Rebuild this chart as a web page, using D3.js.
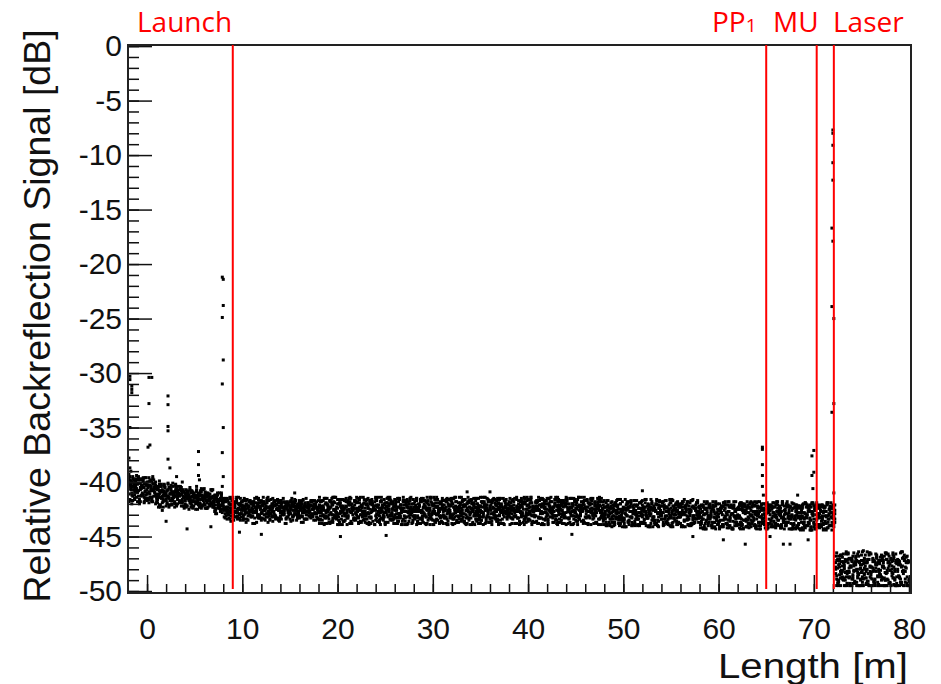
<!DOCTYPE html>
<html>
<head>
<meta charset="utf-8">
<script src="https://cdn.jsdelivr.net/npm/d3@7"></script>
<style>
  body { margin: 0; background: #fff; }
</style>
</head>
<body>
<script>
// OTDR trace, one code character per sample, each character is a 0.1 dB step
// above the floor of its chunk
const levelCodes = "0123456789ABCDEFGHIJKLMNOPQRSTUVWXYZabcdefghijklmnopqrstuvwxyz";
const levelStep = 0.1;
const sampleStep = 0.1;                       // metres between samples
const chunkStarts = [-2, 8, 18, 28, 38, 48, 58, 68, 72.3];
const chunkFloors = [-45, -46, -46, -46, -46, -46, -46, -46, -51];

const sweepA = [
  "pWtkcrhYmi fnVqbjsagl XoedkZrhmU cjRpaghXlb eVnZdiTkfW mbYhcjSofa UhZcPjXbfS aWkVdRgYcT iZbQeUXhaW STbLeVRZdP",
  "ZhVgQbXjTd kPaWfSeUcY gRZiNdbVhT XcgMaWjRfZ PdkUYbhSXa VeOgcTZiRb hQXaWfMdYU bZjSgVcPeX dTahNZYbQf cXRgUedPVa",
  "QdXgMaTjRY bNhVfPZkSW UeLcXiOaTg YRjMdWbQhV fSZNkUcPXa TiWMeRgYbL jVOdaQhXSe NcUkZTfWPb iRYMgVdLaQ XheSbOjUZT",
  "eTZhNbXQjR WcMgYaUkSf LdVibPXTeO hZRaMjWcYU gQbSkNXfTd OYiVcLaRhW ZfMjUbQeXS kPgTdYNaVh cRLiWfZOjb UXeMaSgdQY",
  "TjYcQgMXaR hbWUeNkSZd ViPfLaXTcO gRYjbMdWQh ZUeSkaNXfT cLiVgPYbRd WhMZjTaeQX SfOkcUbYgN aRiLXdWhTV eZMbjQcSYg",
  "SVfLbTQaJX cNWhRZKeUP YMidTbOXgS LaVQcKWfNZ hUPbXRJdTM eYSaLiWOcV QgKZbNTXRf aMhUPdLYSb WJeVOcZgQK TXbiMRaUfN",
  "RZMcHUaPXK dQVIbSNfTL YOaWJcRgMU PXKbVHdSZN aTLfQYIcWO gMRUJbXPdK VaNSHeQZLT cWIYMbRfOU KXdPaVJgSN ZLbTQcHUeM",
  "SHaTMcQXIe NVbRKZdPGW cLUfSJaYOT MbHXdQVKfR aTN",
  "aOdKWhQLbU FiSNeHXcPZ JgTMbFYRkL VdHaQjNWFS cKZfIUbPgM XFRiLaHTdO jWKFbScNYG eQhIVFaL"
];
const sweepB = [
  "ksYhoXqfju mbrWiepVnc hZslaXgqeo WhcmTfaYkd SgbjXeUnaR fiZcVkdWhQ dTbfXhRaWe ZcgPYbUiSa VfQXdbTZhR YNcaQWeTSX",
  "jaRhbYUkOe XfcSiWZdPg bTjVeQaYhS fMdXbkUcRZ gWeQaSjNbV iYcThRdZfO aXUbgMeSWd QhcYTfZaRV gbNeXcQjUa WTdZhPcbSY",
  "hPaWcUjMXe SZgNdRkTYb LiVfQaXOhc WTeMjZbRgP aYNiUdSkVX eQcLhWfOaZ TjbXNgRdUi MYfSckPVeQ bhZOjTaWLg dRXiMeUbYN",
  "SgbLXeRiYP jTcZMhVaQd WkOfUbYNgS dXaRiLeZTc MjVYgPbSkW aQhNdUfXRL ieZcTjOWMb YgSVkaPdXh QNfbUiRTeL ZcWMjhXaYV",
  "dWaRhTXMkb YOgcVeLjSZ iQbUfXNaTh MkYdRWcgPe VLjaZSbXiQ TgNdYhUfMc kbXRaVeLjW PZicQTgYOd hMSbXfjaUR cYWeLkgTVa",
  "bQKYhNVcSa TLfWdPiMXR ZJaUgObSeK VhMYcQTLaW dNXfKRZbUi PSaLeMVJhY cWgQTbOXdK RiNZaUfLVS MeYbPJcTgW XKhRaNdQVb",
  "aLSXdIVOgQ TcKZNbRHWe MYPaUJfSdL XgQbIVcNTK RZeHMaWPdY JSbLgUOcXI fTNaKYQeVR HdMWcPZbJS UgLXaIRfNc QKVdTbMYHe",
  "bPYJcSGWdN ReKUaMXIfT QZHcVLbSJd WaOMeTKYbG UcQ",
  "QjHYcMTfKW bNFiRXdLgS HaUOkFVcIZ eMSbJhWPFd TLiYaGQfNX cFKjRVbHeU MgSFZdOaIW kTcLfNFb"
];
const sweepC = [
  "rdlmUthpka qgXnjrcmYs ejVpiotbfl ZdkgRmbWej cUhaTlfYdb kSgeXcjVaf XeSdaYUgQc WbhZTdRfaX bQeVcYSaUh RZLYcTXNaV",
  "cYhTaWfQdX iUbSgZeRjV aPcXhdTbYf SZgWbNdiUa hRcYeVfkTQ bXaSgdZhPc WeUjYaRbfX gOcTdVhZSa eYbWiQcUXd aSgcTZhdVb",
  "XkTbPhYRfM dUaWjNgSZQ iLeXcTOhVb RfZkMaYPdW UgSjbNXeQT hMaVfRiZcL YdOkTWgbPS aXjNeUhQZc MfVRbiTYOk gSdLaXhWeP",
  "YQiaTMdgWX NhbSfZRLjU ceXPkVaMeT bUhYgQOiWd RLjZcTXNaf kVSdMYegPb WiNTahUZcQ MXfLbkRjYS gdOVaTQhZe jPcXMWbiSU",
  "gLbVYdSTiX RaMheZjQWc OXfkTbUNgY aSdiLVQeZh jMcXWgRbTP YkUaNfdhVS LeZQbjXcMi WgTRYaOdfk bVhMSeiXQZ UcNjaYgLTd",
  "hXNcUaLfWQ KdSYbiMRTg OaVJeZPcXN bLhWSdQKfU YaMiTRcVJb gPZNXeKSaW UfLdQhbMYT JXcRVaOgNe SbKWiUdPLZ fYMcTQaXhR",
  "cWOIUgMZaR NeSKbXJdPT VHYcLfQaWM dIRUbOgKXS LaTNZcHeYQ bJWfPMdRVI XcKgSaUNeO ZHbQYdLTfJ MRaVcIXgPU KedNWbSHaL",
  "IXdRLaTNcG WfSKbYPJeU MHdQaVIcXR LbTGfNZaSK dMV",
  "gLVFdShNaY KcQjMFWbHT ZeIRgUFcNl PXaJdFSiLV bHYfOFcTKe WMjQFaXIdR hGUcNFZbLk SfFWaHcJ"
];
const sweepD = [
  "ivnpXkmcrg WtYhlqdjsZ olfaqWmhjc iYaTfkVcgd XbmRdhZeaU lTfcWidYbS aRfZcVgTXd bPaWeUcSYh ZTcQbXdVaS WcOaTYQXeM",
  "fZjbWhRdYa TgcXkQaVeS dhUbZiPcXg aWeRfYbjTc VdgZaShXbP cTjWdQeaYg RhbXUcfZSd aVgPbiYcWT hZdSaXfQcb TdhVZaWcgR",
  "aMgYTcLjWd ZQhbOkUfXR eSNiaYcVPj LTdgWMbZhQ kXRfOcaTiN VejSZMdYbg PhUXaLkcRW fNbZiQeTgM YcSjOVdaXh TLgbWeRkMZ",
  "XRdjOYcMgT bVhLaeWSkQ PZiNUcfXRa jMTYbgLdVh SeQkWaNZcX TgbOiRMYfU hLXdVQjaZP cWkSeMbTgN aYRhjUdXOf iMbQZLcVWe",
  "ZSfMiaWYcR eLXjbTQgNh UdVkYOaSfZ cMhRXeiLbW TQjgaVYNdk PbXZcSMhUf iRaeWLjTYg dObkQVcXMa hYSfTZLejU WNcgbiRXVQ",
  "LUbhSXKaNd ZfQVcMTiPW aRJYeNgbSK XdOUhLaWfT MbQiVcRKYZ eJSNXdPagU TcWLhbMQVi fKYRaOXdNS bUgJWcZeLQ VMhPTaYfSX",
  "UMdQbKZHfT SaXNgIVcRL OeJWbPYdMU gKScHaTXQN ZbIRfLWdVJ aPMeYcSKgU HTbXNdQaRI VfLZcOJbWM dSgKUaIePY XNcRHbTfLQ",
  "TdKWbHSZaM QIeUNcRGXf JYaPLdVKbS HcMTfIQaWN bRY",
  "WFcIZgMSaF RkHdVNeFLX bTFiPaKYFc QhGUdFjMWb IFSeNcZFhL aVRFdKgTFX cMFiHbYF"
];
const sweepE = [
  "mXqiebkZoh gsUjclrWfn dkYpgaWjni bVhdkZfRmc YgaTjeXcfV hdUkbWgeSa XcSgYaeWRd aUfZbVcQhY TdXaRcZUgb VQaWdSYPcU",
  "cSgYjUeaWh RbdXfTkZcV aYhQdWbgUe ZTcjXaSfbR WdYgPcaVhZ bSeXUdRiaY TcfWZbQgdV XaeSdYhUcb RZgTaWdXbf YcUhSbVeaZ",
  "WcQhZaSeTj XbMgUdYRkV aPfcWLiZTb ShdXOeUaRg ZjMbYcTWfQ dVaNhSXeZc kRbUPgYaTd LWfcXiQZaS UeMbVjRdYh aOXcgTZbWi",
  "bTXjRZcMhW aeUSkPdYgV XLcbQiWTZf NadhSVYcRj eUbMXgZaQT WhdOcYSkbV RaZfLXeTjU cPbWgYdSiN ZVhaRXecQM TjYbUWfdSa",
  "VcRhaYjTMX ZbdSWgPeUk QaXiNcTbYf hZRVdjLaWS eOYcgXUbTi MdaQZhVWSc fjYRNbXeTg aULcdWkZPh SYbXeRiaVM gTcZQdWjaO",
  "URbKdXaQgT NYcSiWMeZJ bPVaTfLXhR cYKdUQaWNg SbZMiTeXJV aRcPYhKdWU QfNbSXaLZi TVJcYeRMbW dKUgPaXQSc ZhLTbNYfVR",
  "TIcXQaHeVM bRUKdYNgPZ SJaWcLfTQI XbOdVHaSgM URcZKePYbJ WdIaTNfXLc QgVHbSMaYR eKZdUJcWOb IfPXaTLdRH VcgNYbQSJa",
  "QbUIcWHaTR KfSdXMGbVe NaYJcTRLdP GXbSIfUcKa WQd",
  "UcKgPFbXiM dRHaSFWeNj IYcFQbLhTF aUMkGdXRFe JbVhFSaNcW FgKdTiHZFb QeLaFUcMjI XFdSbgFK"
];

// isolated reflections and outliers [length m, dB]
const spikePoints = [
  [-1.8, -30.3], [-1.8, -30.6], [-1.6, -31.2], [-1.6, -31.5], [-1.6, -31.8], [-1.8, -35.0],
  [-1.9, -37.8], [-1.8, -38.7], [-1.7, -39.0],
  [0.2, -30.4], [0.5, -30.4], [0.2, -32.8], [0.1, -36.8], [0.3, -36.6],
  [2.2, -32.1], [2.2, -32.9], [2.2, -34.9], [2.2, -35.3], [2.2, -37.9], [2.4, -38.7],
  [3.1, -39.5], [5.4, -37.2], [5.4, -38.4], [5.4, -39.4], [5.5, -39.8],
  [7.9, -21.2], [8.0, -21.4], [8.0, -23.8], [7.9, -24.9], [8.0, -28.8], [7.9, -31.0],
  [8.0, -35.0], [7.9, -37.3], [8.0, -39.5], [7.9, -40.4],
  [64.6, -36.8], [64.6, -37.0], [64.6, -38.4], [64.6, -39.4], [64.6, -40.4], [64.7, -41.2],
  [70.0, -37.1], [69.8, -37.6], [70.0, -39.1], [69.8, -39.4], [69.9, -40.6],
  [72.0, -7.7], [72.0, -8.0], [72.0, -9.1], [72.0, -10.7], [72.0, -12.3], [71.9, -16.7],
  [72.0, -17.9], [71.9, -23.9], [72.1, -25.0], [72.1, -32.8], [71.9, -33.6], [72.1, -41.0],
  [72.1, -42.5], [72.1, -44.1],
  [1.6, -42.6], [2.0, -43.6], [4.2, -44.3], [6.7, -44.1], [9.7, -44.6], [12.0, -44.8],
  [15.5, -41.0], [20.3, -45.0], [25.1, -44.9], [33.6, -40.9], [36.0, -40.9], [41.3, -45.2],
  [44.6, -44.8], [52.0, -40.8], [57.3, -45.0], [60.5, -45.3], [62.8, -45.7], [65.4, -45.0],
  [66.8, -45.7], [67.5, -45.7], [69.4, -45.3], [68.3, -41.2]
];

const markerNames = ["Launch", "PP1", "MU", "Laser"];
const markerAt = [9.0, 65.0, 70.3, 72.1];

const xTicks = [0, 10, 20, 30, 40, 50, 60, 70, 80];
const yTicks = [-50, -45, -40, -35, -30, -25, -20, -15, -10, -5, 0];

// ---- layout
const W = 941, H = 684;
const plot = { left: 128, right: 911, top: 45, bottom: 593 };
const labelLeft = [137, 712, 773, 833];
const axisFont = "'Liberation Sans', Arial, sans-serif";

const x = d3.scaleLinear().domain([-2, 80.2]).range([plot.left, plot.right]);
const y = d3.scaleLinear().domain([-50.18, 0.1]).range([plot.bottom, plot.top]);

const svg = d3.select("body").append("svg")
  .attr("width", W).attr("height", H)
  .style("display", "block");

// decode the sweeps into [m, dB] points
const points = [];
[sweepA, sweepB, sweepC, sweepD, sweepE].forEach(sweep => {
  sweep.forEach((code, i) => {
    code.replace(/ /g, "").split("").forEach((c, j) => {
      const k = levelCodes.indexOf(c);
      if (k >= 0) points.push([chunkStarts[i] + j * sampleStep, chunkFloors[i] + k * levelStep]);
    });
  });
});
spikePoints.forEach(p => points.push(p));

svg.append("clipPath").attr("id", "plotClip")
  .append("rect")
  .attr("x", plot.left).attr("y", plot.top)
  .attr("width", plot.right - plot.left).attr("height", plot.bottom - plot.top);

svg.append("g")
  .attr("clip-path", "url(#plotClip)")
  .selectAll("rect")
  .data(points.filter(p => p[0] <= 80.05))
  .join("rect")
  .attr("x", d => x(d[0]) - 1.5)
  .attr("y", d => y(d[1]) - 1.5)
  .attr("width", 3)
  .attr("height", 3)
  .attr("fill", "#000");

// ---- axes, ticks pointing inwards
const styleAxis = g => {
  g.select(".domain").remove();
  g.attr("font-family", axisFont)
    .attr("font-size", 30)
    .attr("fill", "#111");
  g.selectAll("line").attr("stroke", "#111").attr("stroke-width", 1.5);
  g.selectAll("text").attr("fill", "#111");
};

svg.append("g")
  .attr("transform", `translate(${plot.left},0)`)
  .call(d3.axisLeft(y).tickValues(d3.range(-50, 1, 1)).tickSize(-11).tickFormat(""))
  .call(styleAxis);
svg.append("g")
  .attr("transform", `translate(${plot.left},0)`)
  .call(d3.axisLeft(y).tickValues(yTicks).tickSize(-24).tickPadding(6).tickFormat(d => String(d)))
  .call(styleAxis);

svg.append("g")
  .attr("transform", `translate(0,${plot.bottom})`)
  .call(d3.axisBottom(x).tickValues(d3.range(0, 81, 2)).tickSize(-9).tickFormat(""))
  .call(styleAxis);
svg.append("g")
  .attr("transform", `translate(0,${plot.bottom})`)
  .call(d3.axisBottom(x).tickValues(xTicks).tickSize(-18).tickPadding(25).tickFormat(d => String(d)))
  .call(styleAxis);

// frame
svg.append("rect")
  .attr("x", plot.left).attr("y", plot.top)
  .attr("width", plot.right - plot.left).attr("height", plot.bottom - plot.top)
  .attr("fill", "none")
  .attr("stroke", "#222")
  .attr("stroke-width", 2);

// ---- red marker lines and labels
svg.append("g")
  .selectAll("line")
  .data(markerAt)
  .join("line")
  .attr("x1", d => x(d)).attr("x2", d => x(d))
  .attr("y1", plot.top).attr("y2", plot.bottom - 4)
  .attr("stroke", "#ff0000")
  .attr("stroke-width", 2);

const labels = svg.append("g")
  .attr("font-family", "'Open Sans', 'Noto Sans', sans-serif")
  .attr("font-size", 28)
  .attr("fill", "#ff0000")
  .selectAll("text")
  .data(markerNames)
  .join("text")
  .attr("x", (d, i) => labelLeft[i])
  .attr("y", 32);
labels.each(function (d) {
  const t = d3.select(this);
  const m = d.match(/^(\D+)(\d+)$/);
  if (m) {
    t.append("tspan").text(m[1]);
    t.append("tspan").attr("font-size", 19).text(m[2]);
  } else {
    t.text(d);
  }
});

// ---- axis titles
svg.append("text")
  .attr("x", 718).attr("y", 678)
  .attr("textLength", 190)
  .attr("lengthAdjust", "spacingAndGlyphs")
  .attr("font-family", axisFont)
  .attr("font-size", 35)
  .attr("fill", "#111")
  .text("Length [m]");

svg.append("text")
  .attr("transform", "translate(50,316) rotate(-90)")
  .attr("text-anchor", "middle")
  .attr("font-family", axisFont)
  .attr("font-size", 37.5)
  .attr("fill", "#111")
  .text("Relative Backreflection Signal [dB]");
</script>
</body>
</html>
